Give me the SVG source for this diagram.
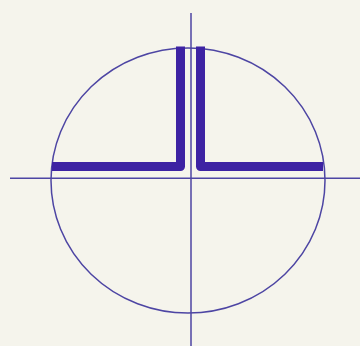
<svg xmlns="http://www.w3.org/2000/svg" width="360" height="346" viewBox="0 0 360 346">
<style>
.thin{fill:none;stroke:#4d45a3;stroke-width:1.5}
.thick{fill:none;stroke:#3d22a3;stroke-width:9;stroke-linejoin:round}
</style>
<rect width="360" height="346" fill="#f5f4ec"/>
<g id="circle"><ellipse class="thin" cx="188" cy="180.5" rx="137" ry="132.5"/></g>
<g id="axes">
<line class="thin" x1="191" y1="13" x2="191" y2="346"/>
<line class="thin" x1="10" y1="178.3" x2="360" y2="178.3"/>
</g>
<g id="tee">
<path class="thick" d="M180.5,46.5 V166.5 H52"/>
<path class="thick" d="M200.5,46.5 V166.5 H323"/>
</g>
</svg>
